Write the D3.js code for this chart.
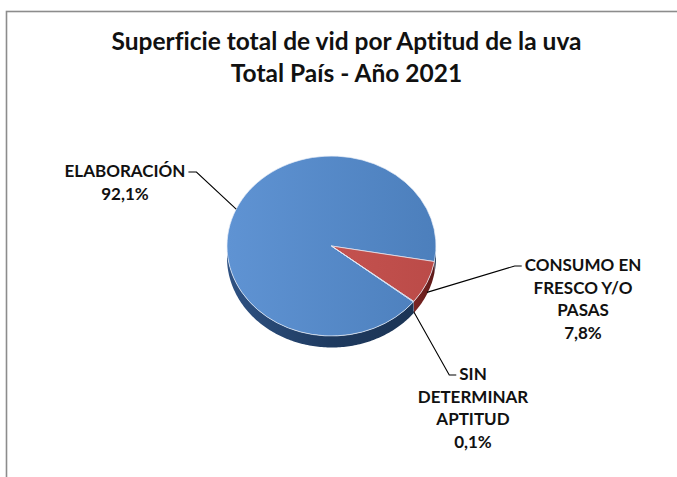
<!DOCTYPE html>
<html>
<head>
  <meta charset="utf-8">
  <script src="https://cdn.jsdelivr.net/npm/d3@7"></script>
  <style>
    body { margin:0; background:#fff; }
    text { font-family: Lato, "Open Sans", sans-serif; font-weight:700; fill:#111; font-variant-ligatures:none; }
  </style>
</head>
<body>
  <svg width="677" height="477"></svg>
  <script>
    // data
    var categories = ["ELABORACIÓN", "CONSUMO EN FRESCO Y/O PASAS", "SIN DETERMINAR APTITUD"];
    var shares = [92.1, 7.8, 0.1];
    var percentLabels = ["92,1%", "7,8%", "0,1%"];
    var titleLines = ["Superficie total de vid por Aptitud de la uva", "Total País - Año 2021"];

    // layout only (label boxes, wrapped the way excel wrapped them)
    var labelLines = [["ELABORACIÓN"], ["CONSUMO EN", "FRESCO Y/O", "PASAS"], ["SIN", "DETERMINAR", "APTITUD"]];
    var labelPos = [{x:125, y:177, side:"left"}, {x:583, y:271, side:"right"}, {x:473, y:380, side:"right"}];

    var svg = d3.select("svg");
    var cx = 331.5, cy = 246, rx = 104.5, ry = 90, depth = 11.5;
    var deg = Math.PI / 180;

    // frame
    svg.append("rect")
      .attr("x", 6.5).attr("y", 11.5)
      .attr("width", 720).attr("height", 520)
      .attr("fill", "none").attr("stroke", "#8c8c8c").attr("stroke-width", 1.6);

    // title
    svg.selectAll(".title")
      .data(titleLines)
      .enter().append("text")
        .attr("class", "title")
        .attr("x", 346.5)
        .attr("y", function (d, i) { return 50 + i * 32; })
        .attr("text-anchor", "middle")
        .style("font-size", "24.5px")
        .text(function (d) { return d; });

    var defs = svg.append("defs");
    function grad(id, stops) {
      var g = defs.append("linearGradient").attr("id", id)
        .attr("x1", "0%").attr("x2", "100%").attr("y1", "0%").attr("y2", "0%");
      stops.forEach(function (s) {
        g.append("stop").attr("offset", s[0]).attr("stop-color", s[1]);
      });
    }
    grad("topBlue", [["0%", "#5f93d3"], ["100%", "#4c7fbc"]]);
    grad("topRed", [["0%", "#c4524f"], ["100%", "#bb4b48"]]);
    grad("sideBlue", [["0%", "#2f5283"], ["50%", "#1e3a5f"], ["100%", "#1b3352"]]);
    grad("sideRed", [["0%", "#7c2523"], ["100%", "#5e1a19"]]);
    var topFill = ["url(#topBlue)", "url(#topRed)", "url(#topBlue)"];
    var sideFill = ["url(#sideBlue)", "url(#sideRed)", "url(#sideBlue)"];

    var start = 128.4 * deg;
    var pie = d3.pie().sort(null).value(function (d) { return d; })
      .startAngle(start).endAngle(start + 2 * Math.PI);
    var arcs = pie(shares);

    // point on the top ellipse for a d3 angle (clockwise from 12 o'clock)
    function pt(a, dy) {
      return [cx + rx * Math.sin(a), cy - ry * Math.cos(a) + (dy || 0)];
    }

    // outer walls, only the front half (90..270 deg) is visible
    var line = d3.line();
    function wallPath(a0, a1) {
      var out = "";
      for (var k = -1; k <= 2; k++) {
        var f0 = (90 + k * 360) * deg, f1 = (270 + k * 360) * deg;
        var b0 = Math.max(a0, f0), b1 = Math.min(a1, f1);
        if (b1 <= b0) continue;
        var n = Math.max(2, Math.ceil((b1 - b0) / (1 * deg)));
        var top = d3.range(n + 1).map(function (i) { return pt(b0 + (b1 - b0) * i / n); });
        var bot = top.slice().reverse().map(function (p) { return [p[0], p[1] + depth]; });
        out += line(top.concat(bot)) + "Z";
      }
      return out;
    }

    var g = svg.append("g");
    g.selectAll(".wall")
      .data(arcs)
      .enter().append("path")
        .attr("class", "wall")
        .attr("d", function (d) { return wallPath(d.startAngle, d.endAngle); })
        .attr("fill", function (d, i) { return sideFill[i]; });

    var arc = d3.arc().innerRadius(0).outerRadius(rx);
    g.selectAll(".slice")
      .data(arcs)
      .enter().append("path")
        .attr("class", "slice")
        .attr("transform", "translate(" + cx + "," + cy + ") scale(1," + (ry / rx) + ")")
        .attr("d", arc)
        .attr("fill", function (d, i) { return topFill[i]; })
        .attr("stroke", "#e8eef8")
        .attr("stroke-width", 0.7)
        .attr("vector-effect", "non-scaling-stroke");

    // leader lines + labels
    var lineH = 22.5;
    arcs.forEach(function (d, i) {
      var mid = (d.startAngle + d.endAngle) / 2;
      var front = Math.cos(mid) < 0;
      var anchor = pt(mid, front ? depth * 0.85 : 0);
      var lp = labelPos[i];
      var lab = labelLines[i];
      var w = 0;
      var t = svg.append("g");
      lab.concat([percentLabels[i]]).forEach(function (s, j) {
        var tx = t.append("text")
          .attr("x", lp.x).attr("y", lp.y + j * lineH)
          .attr("text-anchor", "middle")
          .style("font-size", "17px")
          .text(s);
        if (j === 0) w = tx.node().getComputedTextLength();
      });
      var ly = lp.y - 5;
      var ex = lp.side === "left" ? lp.x + w / 2 + 3 : lp.x - w / 2 - 3;
      var kx = lp.side === "left" ? ex + 8 : ex - 7;
      svg.append("path")
        .attr("d", d3.line()([[ex, ly], [kx, ly], anchor]))
        .attr("fill", "none")
        .attr("stroke", "#000")
        .attr("stroke-width", 1.1);
    });
  </script>
</body>
</html>
